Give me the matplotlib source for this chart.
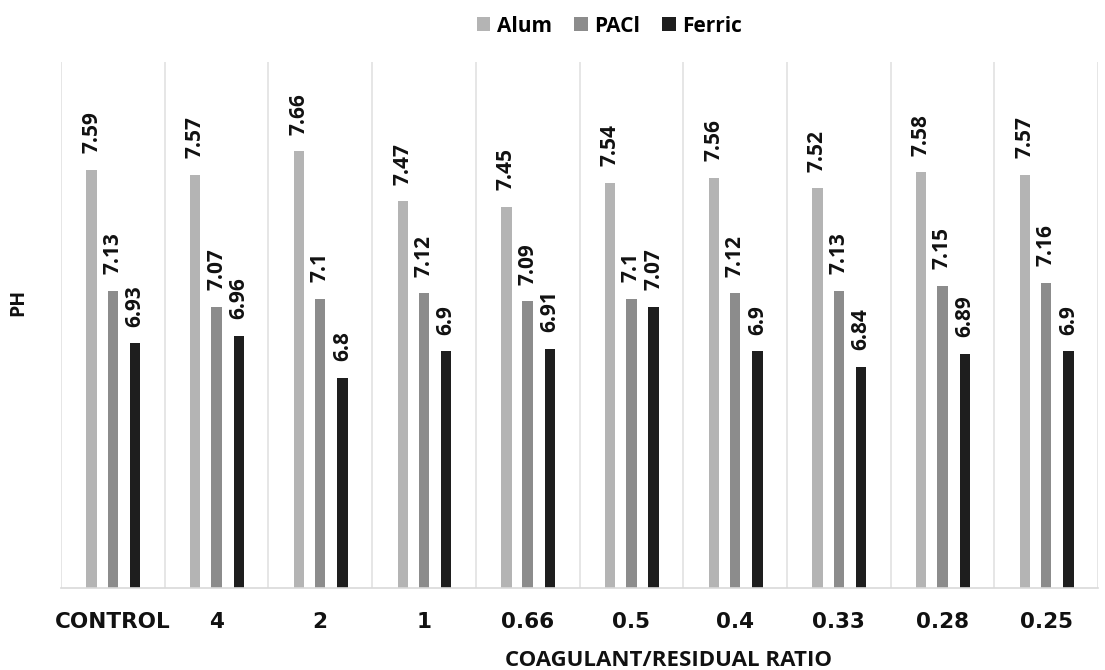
import matplotlib
matplotlib.use("Agg")
import matplotlib.pyplot as plt
import numpy as np

categories = ["CONTROL", "4", "2", "1", "0.66", "0.5", "0.4", "0.33", "0.28", "0.25"]
alum = [7.59, 7.57, 7.66, 7.47, 7.45, 7.54, 7.56, 7.52, 7.58, 7.57]
pacl = [7.13, 7.07, 7.1, 7.12, 7.09, 7.1, 7.12, 7.13, 7.15, 7.16]
ferric = [6.93, 6.96, 6.8, 6.9, 6.91, 7.07, 6.9, 6.84, 6.89, 6.9]
series_names = ["Alum", "PACl", "Ferric"]
colors = ["#b4b4b4", "#8c8c8c", "#1e1e1e"]

plt.rcParams['font.family'] = ['Open Sans', 'DejaVu Sans']

fig = plt.figure(figsize=(11.05, 6.7), dpi=100)
ax = fig.add_axes([61/1105, 1-588/670, (1098-61)/1105, (588-62)/670])

x = np.arange(len(categories))
offsets = [-0.205, 0.0, 0.215]
width = 0.1
for vals, name, c, off in zip([alum, pacl, ferric], series_names, colors, offsets):
    ax.bar(x + off, np.array(vals) - 6, width=width, bottom=6, color=c, label=name)
    for xi, v in zip(x, vals):
        ax.annotate(f"{v:g}", (xi + off, v), xytext=(0, 12), textcoords="offset points",
                    rotation=90, ha="center", va="bottom", fontsize=15,
                    fontweight="bold", color="#111111")

ax.set_ylim(6, 8)
ax.set_xlim(-0.5, len(categories) - 0.5)
ax.set_yticks([])
for b in np.arange(-0.5, len(categories) + 0.5, 1):
    ax.axvline(b, color="#e2e2e2", lw=1.2, zorder=0)
for s in ["top", "right", "left"]:
    ax.spines[s].set_visible(False)
ax.spines["bottom"].set_color("#d9d9d9")
ax.spines["bottom"].set_linewidth(1.2)

ax.set_xticks(x)
ax.set_xticklabels(categories, family="DejaVu Sans", fontweight="bold", fontsize=15.5, color="#111111")
ax.tick_params(axis="x", length=0, pad=17)
ax.set_xlabel("COAGULANT/RESIDUAL RATIO", fontsize=16, fontweight="bold", color="#111111")
ax.xaxis.set_label_coords(0.586, -0.118)
ax.set_ylabel("PH", fontsize=14, fontweight="bold", color="#111111")
ax.yaxis.set_label_coords(-0.032, 0.542)

ax.legend(loc="center", bbox_to_anchor=(0.529, 1.068), ncol=3, frameon=False,
          handlelength=0.65, handleheight=0.65, handletextpad=0.33, columnspacing=1.05,
          prop={"weight": "bold", "size": 15})

fig.savefig("out.png", dpi=100)
